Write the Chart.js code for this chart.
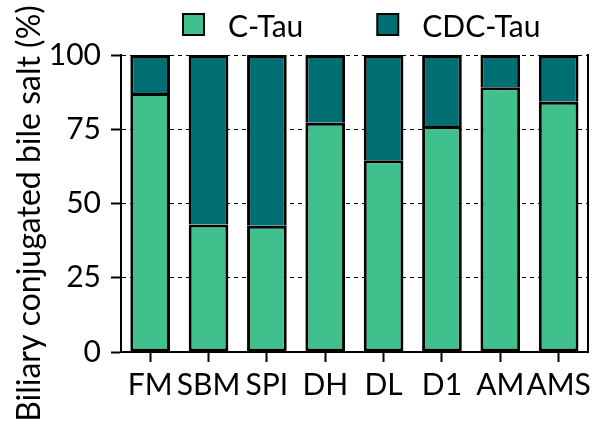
<!DOCTYPE html>
<html><head><meta charset="utf-8">
<script src="https://cdn.jsdelivr.net/npm/chart.js@4/dist/chart.umd.min.js"></script>
<style>html,body{margin:0;padding:0;background:#fff}</style>
</head><body>
<canvas id="c" width="596" height="430"></canvas>
<script>
const categories = ['FM', 'SBM', 'SPI', 'DH', 'DL', 'D1', 'AM', 'AMS'];
const cTau = [87.2, 42.9, 42.5, 77.2, 64.6, 76.1, 89.1, 84.3];
const cdcTau = [12.8, 57.1, 57.5, 22.8, 35.4, 23.9, 10.9, 15.7];
const yTicks = [0, 25, 50, 75, 100];
const seriesNames = ['C-Tau', 'CDC-Tau'];
const yTitle = 'Biliary conjugated bile salt (%)';

const FONT = 'Lato';
const GREEN = '#40C08C';
const TEAL = '#006F74';

const legendPlugin = {
  id: 'topLegend',
  afterDraw(chart) {
    const ctx = chart.ctx;
    const area = chart.chartArea;
    ctx.save();
    ctx.font = '30px ' + FONT;
    ctx.textBaseline = 'alphabetic';
    let x = area.left + 62;
    const boxTop = 14, box = 21;
    chart.data.datasets.forEach(ds => {
      ctx.fillStyle = ds.backgroundColor;
      ctx.fillRect(x, boxTop, box, box);
      ctx.lineWidth = 2;
      ctx.strokeStyle = '#000';
      ctx.strokeRect(x, boxTop, box, box);
      ctx.fillStyle = '#000';
      ctx.fillText(ds.label, x + 45, 37);
      x += 45 + ctx.measureText(ds.label).width + 74;
    });
    ctx.restore();
  }
};

new Chart(document.getElementById('c'), {
  type: 'bar',
  data: {
    labels: categories,
    datasets: [
      { label: seriesNames[0], data: cTau, backgroundColor: GREEN, borderColor: '#000', borderWidth: 3, borderSkipped: false,
        categoryPercentage: 1, barPercentage: 0.68 },
      { label: seriesNames[1], data: cdcTau, backgroundColor: TEAL, borderColor: '#000', borderWidth: 3, borderSkipped: 'start',
        categoryPercentage: 1, barPercentage: 0.68 }
    ]
  },
  options: {
    responsive: false,
    animation: false,
    devicePixelRatio: 1,
    layout: { padding: { top: 55, right: 2, bottom: 0, left: 0 } },
    plugins: { legend: { display: false }, tooltip: { enabled: false } },
    scales: {
      x: {
        stacked: true,
        afterFit(s) { s.height = 78; },
        grid: { display: true, drawOnChartArea: false, drawTicks: true, offset: false, tickLength: 10, tickColor: '#000', tickWidth: 2 },
        border: { display: true, color: '#000', width: 2 },
        ticks: { font: { family: FONT, size: 30 }, color: '#000', padding: 5, maxRotation: 0, autoSkip: false }
      },
      y: {
        stacked: true,
        min: 0, max: 100,
        afterBuildTicks(s) { s.ticks = yTicks.map(v => ({ value: v })); },
        afterFit(s) { s.width = 121; },
        grid: { color: '#000', lineWidth: 1, tickLength: 10, tickColor: '#000', tickWidth: 2, tickBorderDash: [] },
        border: { display: true, color: '#000', width: 2, dash: [4, 4] },
        ticks: { font: { family: FONT, size: 30 }, color: '#000', padding: 10 },
        title: { display: true, text: yTitle + '\u2002\u2009', font: { family: FONT, size: 32 }, color: '#000', padding: { top: 10, bottom: 0 } }
      },
      yR: {
        position: 'right',
        min: 0, max: 100,
        afterFit(s) { s.width = 0; },
        grid: { display: false },
        ticks: { display: false },
        border: { display: true, color: '#000', width: 2 }
      }
    }
  },
  plugins: [legendPlugin]
});
</script>
</body></html>
